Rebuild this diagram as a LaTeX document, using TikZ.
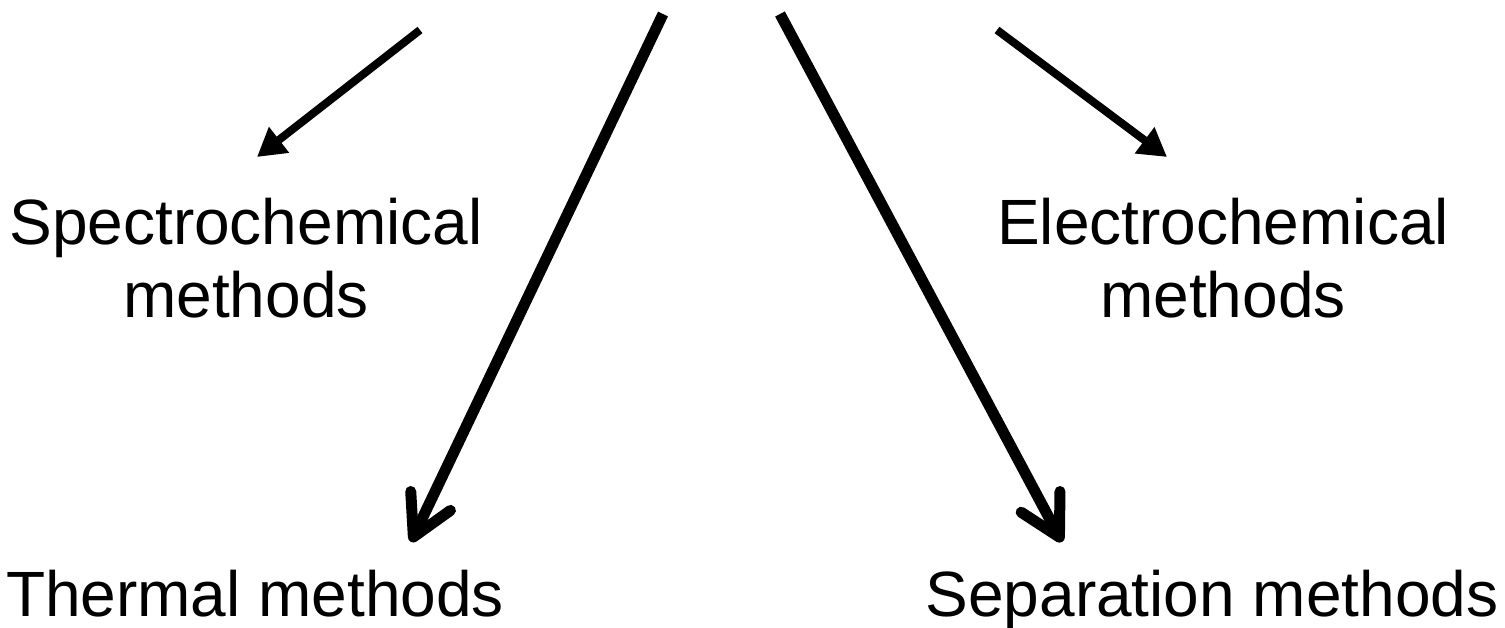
\documentclass[tikz,border=0pt]{standalone}
\usepackage{fontspec}
\setmainfont{Liberation Sans}
\usetikzlibrary{arrows.meta}
\begin{document}
\begin{tikzpicture}[x=1pt,y=-1pt,
  lbl/.style={inner sep=0pt, anchor=base, align=center, font=\fontsize{64}{73}\selectfont},
  smallarrow/.style={line width=8pt, -{Triangle[length=28pt,width=31pt]}},
  bigarrow/.style={line width=11pt, -{Straight Barb[length=40pt,width=44pt,line cap=round,line join=round]}}]
\useasboundingbox (0,0) rectangle (1505,628);
\node[lbl] (spec) at (246,318) {Spectrochemical\\methods};
\node[lbl] (elec) at (1223,318) {Electrochemical\\methods};
\node[lbl] (therm) at (255,616) {Thermal methods};
\node[lbl] (sep) at (1212,616) {Separation methods};
\coordinate (s1) at (420,30);
\coordinate (t1) at (257,157);
\coordinate (s2) at (663,14);
\coordinate (t2) at (411,542);
\coordinate (s3) at (780,14);
\coordinate (t3) at (1062,542);
\coordinate (s4) at (997,30);
\coordinate (t4) at (1167,157);
\draw[smallarrow] (s1) -- (t1);
\draw[bigarrow] (s2) -- (t2);
\draw[bigarrow] (s3) -- (t3);
\draw[smallarrow] (s4) -- (t4);
\end{tikzpicture}
\end{document}
